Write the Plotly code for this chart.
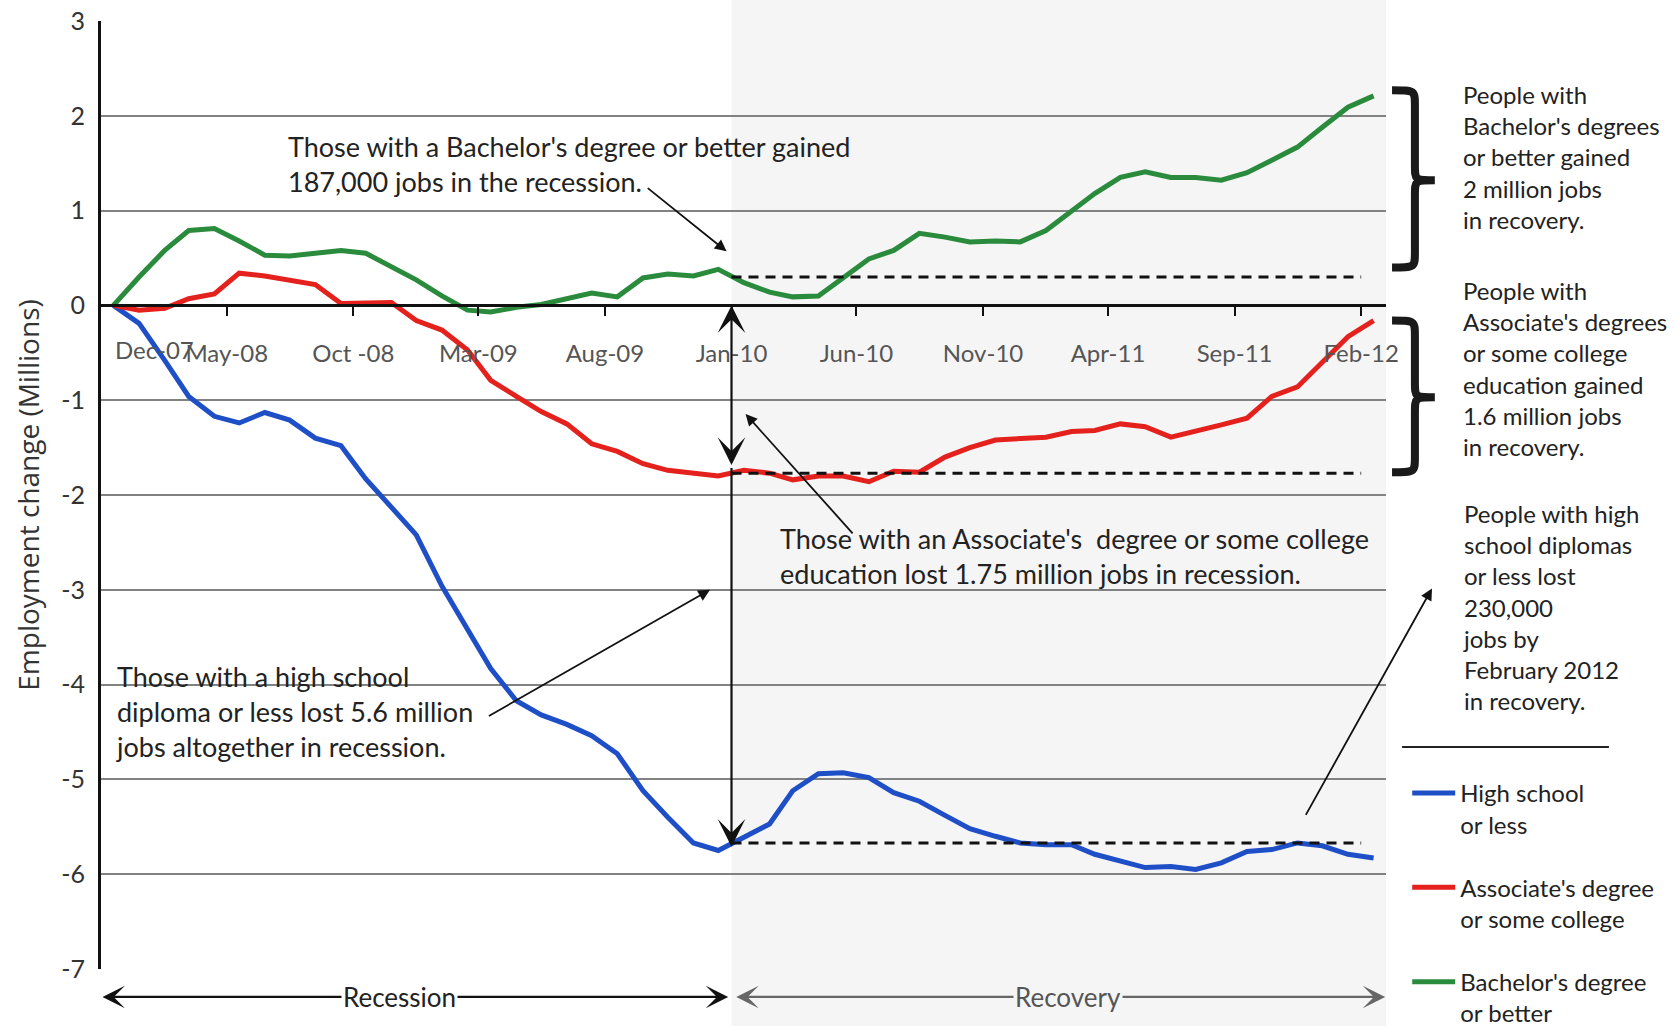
import plotly.graph_objects as go
import pandas as pd

FONT = "Lato"

# ---------------- data (millions, change since Dec-07) ----------------
months = pd.date_range("2007-12-01", "2012-02-01", freq="MS")
x_mid = months + pd.Timedelta(days=15)

high_school = [0, -0.19, -0.58, -0.96, -1.17, -1.24, -1.13, -1.21, -1.40, -1.48,
               -1.83, -2.13, -2.42, -2.96, -3.42, -3.83, -4.17, -4.32, -4.42, -4.54,
               -4.73, -5.12, -5.40, -5.67, -5.75, -5.61, -5.47, -5.12, -4.94, -4.93,
               -4.98, -5.14, -5.23, -5.38, -5.52, -5.60, -5.67, -5.69, -5.69, -5.79,
               -5.86, -5.93, -5.92, -5.95, -5.88, -5.76, -5.74, -5.67, -5.70, -5.79,
               -5.83]
associate = [0, -0.05, -0.03, 0.07, 0.12, 0.34, 0.31, 0.26, 0.22, 0.02,
             0.03, 0.03, -0.16, -0.26, -0.47, -0.79, -0.96, -1.12, -1.25, -1.46,
             -1.54, -1.67, -1.74, -1.77, -1.80, -1.74, -1.77, -1.84, -1.80, -1.80,
             -1.86, -1.75, -1.76, -1.60, -1.50, -1.42, -1.40, -1.39, -1.33, -1.32,
             -1.25, -1.28, -1.39, -1.33, -1.26, -1.19, -0.96, -0.86, -0.60, -0.33,
             -0.16]
bachelor = [0, 0.30, 0.58, 0.79, 0.81, 0.68, 0.53, 0.52, 0.55, 0.58,
            0.55, 0.41, 0.27, 0.10, -0.05, -0.07, -0.02, 0.01, 0.07, 0.13,
            0.09, 0.29, 0.33, 0.31, 0.38, 0.24, 0.14, 0.09, 0.10, 0.29,
            0.49, 0.58, 0.76, 0.72, 0.67, 0.68, 0.67, 0.79, 1.00, 1.18,
            1.35, 1.41, 1.35, 1.35, 1.32, 1.40, 1.53, 1.67, 1.88, 2.09,
            2.21]

series_names = ["High school<br>or less", "Associate's degree<br>or some college",
                "Bachelor's degree<br>or better"]
series_colors = ["#1f4fc6", "#e4211c", "#2a8b3c"]

# end-of-recession reference levels (dashed lines)
recession_end = "2010-01-01"
recovery_end = "2012-02-01"
ref_levels = [-5.67, -1.77, 0.30]

tick_dates = ["2008-05-01", "2008-10-01", "2009-03-01", "2009-08-01", "2010-01-01",
              "2010-06-01", "2010-11-01", "2011-04-01", "2011-09-01", "2012-02-01"]
tick_text = ["May-08", "Oct -08", "Mar-09", "Aug-09", "Jan-10",
             "Jun-10", "Nov-10", "Apr-11", "Sep-11", "Feb-12"]
y_ticks = [3, 2, 1, 0, -1, -2, -3, -4, -5, -6, -7]
y_text = ["3", "2", "1", "0", "-1", "-2", "-3", "-4", "-5", "-6", "-7"]

x_range = ["2007-12-01", "2012-03-02"]

fig = go.Figure()

for vals, name, col in zip([high_school, associate, bachelor], series_names, series_colors):
    fig.add_trace(go.Scatter(x=x_mid, y=vals, mode="lines", name=name,
                             legendgroup=name,
                             line=dict(color=col, width=5)))

for lvl in ref_levels:
    fig.add_trace(go.Scatter(x=[recession_end, recovery_end], y=[lvl, lvl], mode="lines",
                             showlegend=False, hoverinfo="skip",
                             line=dict(color="#111", width=3, dash="10px,7px")))

TXT = "#222"
anns = []

# Dec-07 label (offset to the right of the axis)
anns.append(dict(x=x_mid[0], y=-0.47, xref="x", yref="y", text="Dec-07", showarrow=False,
                 xanchor="left", yanchor="middle",
                 font=dict(family=FONT, size=24, color="#555")))

# vertical measuring arrows at end of recession
anns.append(dict(x=recession_end, y=0, ax=recession_end, ay=-1.70, xref="x", yref="y",
                 axref="x", ayref="y", text="", showarrow=True, arrowside="end+start",
                 arrowhead=3, startarrowhead=3, arrowsize=2.1, startarrowsize=2.1,
                 arrowwidth=2.2, arrowcolor="#111", standoff=0, startstandoff=0))
anns.append(dict(x=recession_end, y=-5.71, ax=recession_end, ay=-1.70, xref="x", yref="y",
                 axref="x", ayref="y", text="", showarrow=True,
                 arrowhead=3, arrowsize=2.1, arrowwidth=2.2, arrowcolor="#111", standoff=0))

# pointer arrows
pointer = dict(xref="x", yref="y", axref="x", ayref="y", text="", showarrow=True,
               arrowhead=2, arrowsize=1.3, arrowwidth=1.8, arrowcolor="#111", standoff=0)
anns.append(dict(pointer, x="2009-12-26", y=0.57, ax="2009-09-20", ay=1.25))
anns.append(dict(pointer, x="2010-01-18", y=-1.145, ax="2010-05-29", ay=-2.42))
anns.append(dict(pointer, x="2009-12-06", y=-3.0, ax="2009-03-12", ay=-4.34))
anns.append(dict(xref="paper", yref="y", axref="pixel", ayref="pixel", text="",
                 showarrow=True, arrowhead=2, arrowsize=1.3, arrowwidth=1.8,
                 arrowcolor="#111", standoff=0, x=1.0358, y=-2.985, ax=-127, ay=228))

# text annotations
big = dict(family=FONT, size=27, color=TXT)
anns.append(dict(x="2008-07-12", y=1.49, xref="x", yref="y", showarrow=False,
                 xanchor="left", yanchor="middle", align="left", font=big,
                 text="Those with a Bachelor's degree or better gained<br>187,000 jobs in the recession."))
anns.append(dict(x="2010-02-26", y=-2.64, xref="x", yref="y", showarrow=False,
                 xanchor="left", yanchor="middle", align="left", font=big,
                 text="Those with an Associate's  degree or some college<br>education lost 1.75 million jobs in recession."))
anns.append(dict(x="2007-12-17", y=-4.28, xref="x", yref="y", showarrow=False,
                 xanchor="left", yanchor="middle", align="left", font=big,
                 text="Those with a high school<br>diploma or less lost 5.6 million<br>jobs altogether in recession."))

side = dict(family=FONT, size=24, color=TXT)
anns.append(dict(x=1.0584, y=0.857, xref="paper", yref="paper", showarrow=False,
                 xanchor="left", yanchor="middle", align="left", font=side,
                 text="People with<br>Bachelor's degrees<br>or better gained<br>2 million jobs<br>in recovery."))
anns.append(dict(x=1.0584, y=0.633, xref="paper", yref="paper", showarrow=False,
                 xanchor="left", yanchor="middle", align="left", font=side,
                 text="People with<br>Associate's degrees<br>or some college<br>education gained<br>1.6 million jobs<br>in recovery."))
anns.append(dict(x=1.0584, y=0.382, xref="paper", yref="paper", showarrow=False,
                 xanchor="left", yanchor="middle", align="left", font=side,
                 text="People with high<br>school diplomas<br>or less lost<br>230,000<br>jobs by<br>February 2012<br>in recovery."))

# recession / recovery arrows below the chart
arr_y = -0.0295
anns.append(dict(x="2009-12-28", y=arr_y, ax="2007-12-01", ay=0, xref="x", yref="paper",
                 axref="x", ayref="pixel", text="", showarrow=True, arrowside="end+start",
                 arrowhead=3, startarrowhead=3, arrowsize=1.7, startarrowsize=1.7,
                 arrowwidth=2.2, arrowcolor="#111", standoff=0, startstandoff=0))
anns.append(dict(x="2012-03-01", y=arr_y, ax="2010-01-05", ay=0, xref="x", yref="paper",
                 axref="x", ayref="pixel", text="", showarrow=True, arrowside="end+start",
                 arrowhead=3, startarrowhead=3, arrowsize=1.7, startarrowsize=1.7,
                 arrowwidth=2.2, arrowcolor="#666", standoff=0, startstandoff=0))
anns.append(dict(x="2008-11-26", y=arr_y, xref="x", yref="paper", showarrow=False,
                 text="Recession", bgcolor="white", borderpad=1,
                 xanchor="center", yanchor="middle",
                 font=dict(family=FONT, size=26, color=TXT)))
anns.append(dict(x="2011-02-12", y=arr_y, xref="x", yref="paper", showarrow=False,
                 text="Recovery", bgcolor="#f5f5f5", borderpad=1,
                 xanchor="center", yanchor="middle",
                 font=dict(family=FONT, size=26, color="#555")))

# shapes: recovery shading, braces, legend separator
def brace(y_top, y_mid, y_bot, x0=1.0047, x1=1.0225, x2=1.038, c=0.16):
    return (f"M {x0},{y_top} C {x1},{y_top} {x1},{y_top} {x1},{y_top - c} "
            f"L {x1},{y_mid + c} C {x1},{y_mid} {x1},{y_mid} {x2},{y_mid} "
            f"C {x1},{y_mid} {x1},{y_mid} {x1},{y_mid - c} "
            f"L {x1},{y_bot + c} C {x1},{y_bot} {x1},{y_bot} {x0},{y_bot}")

shapes = [
    dict(type="rect", xref="x", yref="paper", x0=recession_end, x1=x_range[1],
         y0=-0.07, y1=1.03, fillcolor="#f5f5f5", line=dict(width=0), layer="below"),
    dict(type="path", xref="paper", yref="y", path=brace(2.27, 1.32, 0.40),
         line=dict(color="#1a1a1a", width=8)),
    dict(type="path", xref="paper", yref="y", path=brace(-0.16, -0.97, -1.76),
         line=dict(color="#1a1a1a", width=8)),
    dict(type="line", xref="paper", yref="paper", x0=1.0125, x1=1.1735, y0=0.2342, y1=0.2342,
         line=dict(color="#222", width=2)),
]

fig.update_layout(
    width=1676, height=1026,
    margin=dict(l=101, r=290, t=21, b=57, autoexpand=False),
    paper_bgcolor="white", plot_bgcolor="white",
    font=dict(family=FONT, color=TXT),
    annotations=anns, shapes=shapes,
    showlegend=True,
    legend=dict(x=1.0165, y=0.209, xanchor="left", yanchor="top",
                font=dict(family=FONT, size=24, color=TXT),
                tracegroupgap=29, valign="top", bgcolor="rgba(0,0,0,0)",
                itemwidth=43),
    xaxis=dict(type="date", range=x_range, anchor="free", position=0.7,
               showgrid=False, zeroline=False, automargin=False,
               showline=True, linecolor="#111", linewidth=3,
               ticks="outside", ticklen=9, tickwidth=2, tickcolor="#111",
               tickvals=tick_dates, ticktext=tick_text, ticklabelstandoff=17,
               tickfont=dict(family=FONT, size=24, color="#555")),
    yaxis=dict(range=[-7, 3], tickvals=y_ticks, ticktext=y_text, automargin=False,
               showgrid=True, gridcolor="#828282", gridwidth=2, zeroline=False,
               showline=True, linecolor="#111", linewidth=3, ticks="",
               ticklabelstandoff=8,
               tickfont=dict(family=FONT, size=25, color="#333"),
               title=dict(text="Employment change (Millions)", standoff=14,
                          font=dict(family="Open Sans", size=28, color="#333"))),
)

fig.write_html("out.html", config={"displayModeBar": False},
               post_script="document.body.style.margin='0';")
